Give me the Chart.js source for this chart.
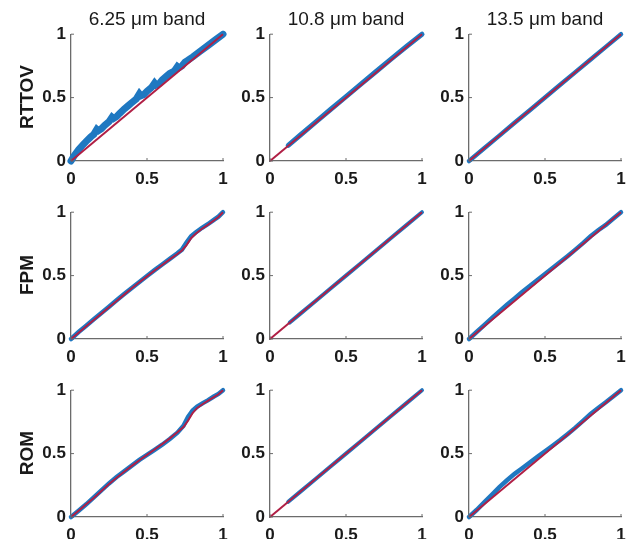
<!DOCTYPE html>
<html>
<head>
<meta charset="utf-8">
<script src="https://cdn.jsdelivr.net/npm/chart.js@4/dist/chart.umd.min.js"></script>
<style>
  html, body { margin: 0; padding: 0; background: #fff; }
  body { width: 635px; height: 539px; position: relative; overflow: hidden;
         font-family: "Liberation Sans", Arial, sans-serif; }
  .panel { position: absolute; }
  .colTitle { position: absolute; font-size: 19px; color: #1a1a1a; white-space: nowrap;
              transform: translate(-50%, -50%); }
  .rowLabel { position: absolute; font-size: 19px; font-weight: bold; color: #1a1a1a; white-space: nowrap;
              transform: translate(-50%, -50%) rotate(-90deg); }
</style>
</head>
<body>
<script>
// ---- labels ----
const bandTitles = ['6.25 μm band', '10.8 μm band', '13.5 μm band'];
const modelNames = ['RTTOV', 'FPM', 'ROM'];
const tickValues = [0, 0.5, 1];
const tickLabels = ['0', '0.5', '1'];

// ---- 1:1 reference line ----
const diagX = [0, 1];
const diagY = [0, 1];

// ---- RTTOV ----
const rttov625BlueX = [0,0.02,0.05,0.08,0.1,0.13,0.15,0.17,0.18,0.2,0.22,0.25,0.27,0.28,0.3,0.32,0.35,0.38,0.4,0.43,0.45,0.46,0.48,0.5,0.53,0.55,0.56,0.58,0.6,0.63,0.65,0.68,0.7,0.71,0.73,0.75,0.77,0.8,0.85,0.9,0.95,1];
const rttov625BlueY = [0,0.04,0.09,0.13,0.155,0.19,0.21,0.25,0.24,0.255,0.28,0.31,0.345,0.335,0.35,0.375,0.41,0.44,0.46,0.49,0.53,0.515,0.525,0.55,0.58,0.615,0.6,0.61,0.64,0.67,0.69,0.71,0.745,0.735,0.75,0.78,0.795,0.82,0.865,0.91,0.955,1];
const rttov108BlueX = [0.12,0.2,0.3,0.4,0.5,0.6,0.7,0.8,0.9,1];
const rttov108BlueY = [0.123,0.205,0.307,0.408,0.508,0.608,0.708,0.807,0.905,1];
const rttov135BlueX = [0,0.1,0.2,0.3,0.4,0.5,0.6,0.7,0.8,0.9,1];
const rttov135BlueY = [0,0.1,0.2,0.301,0.401,0.501,0.601,0.701,0.8,0.9,1];

// ---- FPM ----
const fpm625X     = [0,0.05,0.1,0.15,0.2,0.25,0.3,0.35,0.4,0.45,0.5,0.55,0.6,0.65,0.7,0.73,0.76,0.79,0.82,0.86,0.9,0.94,0.97,1];
const fpm625BlueY = [0,0.055,0.105,0.155,0.205,0.255,0.305,0.355,0.403,0.45,0.497,0.543,0.588,0.632,0.676,0.705,0.76,0.81,0.84,0.875,0.905,0.94,0.965,1];
const fpm625RedY  = [0,0.05,0.1,0.15,0.2,0.25,0.3,0.35,0.4,0.447,0.494,0.54,0.584,0.628,0.67,0.698,0.74,0.795,0.83,0.868,0.9,0.935,0.962,1];
const fpm108BlueX = [0.13,0.2,0.3,0.4,0.5,0.6,0.7,0.8,0.9,1];
const fpm108BlueY = [0.13,0.2,0.3,0.4,0.5,0.6,0.7,0.8,0.9,1];
const fpm135BlueX = [0,0.05,0.1,0.15,0.2,0.25,0.3,0.35,0.4,0.45,0.5,0.55,0.6,0.65,0.7,0.75,0.8,0.85,0.9,0.95,1];
const fpm135BlueY = [0,0.055,0.11,0.165,0.218,0.27,0.32,0.37,0.418,0.466,0.513,0.56,0.607,0.655,0.705,0.756,0.81,0.858,0.9,0.95,1];

// ---- ROM ----
const rom625X     = [0,0.05,0.1,0.15,0.2,0.25,0.3,0.35,0.4,0.45,0.5,0.55,0.6,0.65,0.7,0.74,0.77,0.8,0.83,0.87,0.9,0.94,0.97,1];
const rom625BlueY = [0,0.05,0.1,0.155,0.21,0.265,0.315,0.36,0.405,0.45,0.49,0.53,0.57,0.615,0.665,0.72,0.79,0.84,0.87,0.9,0.92,0.95,0.97,1];
const rom625RedY  = [0,0.05,0.1,0.15,0.205,0.26,0.31,0.357,0.403,0.448,0.49,0.532,0.575,0.62,0.668,0.71,0.76,0.82,0.86,0.893,0.915,0.945,0.968,1];
const rom108BlueX = [0.12,0.2,0.3,0.4,0.5,0.6,0.7,0.8,0.9,1];
const rom108BlueY = [0.12,0.2,0.3,0.4,0.5,0.6,0.7,0.8,0.9,1];
const rom135BlueX = [0,0.05,0.1,0.15,0.2,0.25,0.3,0.35,0.4,0.45,0.5,0.55,0.6,0.65,0.7,0.75,0.8,0.85,0.9,0.95,1];
const rom135BlueY = [0,0.055,0.115,0.175,0.235,0.29,0.34,0.385,0.43,0.475,0.518,0.562,0.607,0.655,0.705,0.758,0.812,0.86,0.905,0.952,1];

// panel grid: rows = models, columns = bands
const panels = [
  [ {bx: rttov625BlueX, by: rttov625BlueY, rx: diagX, ry: diagY, bw: 7},
    {bx: rttov108BlueX, by: rttov108BlueY, rx: diagX, ry: diagY, bw: 5},
    {bx: rttov135BlueX, by: rttov135BlueY, rx: diagX, ry: diagY, bw: 4.5} ],
  [ {bx: fpm625X, by: fpm625BlueY, rx: fpm625X, ry: fpm625RedY, bw: 4.5},
    {bx: fpm108BlueX, by: fpm108BlueY, rx: diagX, ry: diagY, bw: 4},
    {bx: fpm135BlueX, by: fpm135BlueY, rx: diagX, ry: diagY, bw: 4.5} ],
  [ {bx: rom625X, by: rom625BlueY, rx: rom625X, ry: rom625RedY, bw: 4.5},
    {bx: rom108BlueX, by: rom108BlueY, rx: diagX, ry: diagY, bw: 4},
    {bx: rom135BlueX, by: rom135BlueY, rx: diagX, ry: diagY, bw: 4.5} ]
];

// ---- layout ----
const COL_LEFT = [71, 270, 469];
const ROW_TOP = [33, 211, 389];
const PLOT_W = 152, PLOT_H = 128;
const AXIS_W = 44, AXIS_H = 32, PAD_T = 14, PAD_R = 14;
const BLUE = '#1f78c1';
const RED = '#b01f45';
const AXIS_COLOR = '#6b6b6b';
const TICK_FONT = {family: '"Liberation Sans", Arial, sans-serif', size: 17, weight: 'bold'};

const toPoints = (xs, ys) => xs.map((x, i) => ({x, y: ys[i]}));

// short tick marks pointing into the plot
const innerTicks = {
  id: 'innerTicks',
  afterDraw(chart) {
    const {ctx, chartArea, scales} = chart;
    ctx.save();
    ctx.strokeStyle = AXIS_COLOR;
    ctx.lineWidth = 1;
    tickValues.forEach(v => {
      const px = scales.x.getPixelForValue(v);
      const py = scales.y.getPixelForValue(v);
      ctx.beginPath();
      ctx.moveTo(px, chartArea.bottom);
      ctx.lineTo(px, chartArea.bottom - 3);
      ctx.moveTo(chartArea.left, py);
      ctx.lineTo(chartArea.left + 3, py);
      ctx.stroke();
    });
    ctx.restore();
  }
};

function axisOptions(isX) {
  return {
    type: 'linear', min: 0, max: 1,
    afterBuildTicks: s => { s.ticks = tickValues.map(v => ({value: v})); },
    afterFit: s => { if (isX) s.height = AXIS_H; else s.width = AXIS_W; },
    ticks: {
      color: '#1a1a1a', font: TICK_FONT, padding: isX ? 8 : 5,
      maxRotation: 0, autoSkip: false,
      callback: (v, i) => tickLabels[i]
    },
    grid: {display: true, drawOnChartArea: false, drawTicks: false},
    border: {display: true, color: AXIS_COLOR, width: 1.3}
  };
}

panels.forEach((row, r) => {
  row.forEach((p, c) => {
    const w = AXIS_W + PLOT_W + PAD_R, h = PAD_T + PLOT_H + AXIS_H;
    const div = document.createElement('div');
    div.className = 'panel';
    div.style.left = (COL_LEFT[c] - AXIS_W) + 'px';
    div.style.top = (ROW_TOP[r] - PAD_T) + 'px';
    div.style.width = w + 'px';
    div.style.height = h + 'px';
    const canvas = document.createElement('canvas');
    canvas.width = w; canvas.height = h;
    div.appendChild(canvas);
    document.body.appendChild(div);

    new Chart(canvas, {
      type: 'scatter',
      data: {
        datasets: [
          {data: toPoints(p.rx, p.ry), showLine: true, borderColor: RED, borderWidth: 2,
           pointRadius: 0, clip: 4},
          {data: toPoints(p.bx, p.by), showLine: true, borderColor: BLUE, borderWidth: p.bw,
           pointRadius: 0, borderJoinStyle: 'miter', borderCapStyle: 'round', clip: 4}
        ]
      },
      options: {
        responsive: false, animation: false, events: [],
        layout: {padding: {top: PAD_T, right: PAD_R, left: 0, bottom: 0}},
        plugins: {legend: {display: false}, tooltip: {enabled: false}},
        scales: {x: axisOptions(true), y: axisOptions(false)}
      },
      plugins: [innerTicks]
    });
  });
});

// column titles and row labels
bandTitles.forEach((t, c) => {
  const d = document.createElement('div');
  d.className = 'colTitle';
  d.textContent = t;
  d.style.left = (COL_LEFT[c] + PLOT_W / 2) + 'px';
  d.style.top = '19px';
  document.body.appendChild(d);
});
modelNames.forEach((t, r) => {
  const d = document.createElement('div');
  d.className = 'rowLabel';
  d.textContent = t;
  d.style.left = '27px';
  d.style.top = (ROW_TOP[r] + PLOT_H / 2) + 'px';
  document.body.appendChild(d);
});
</script>
</body>
</html>
